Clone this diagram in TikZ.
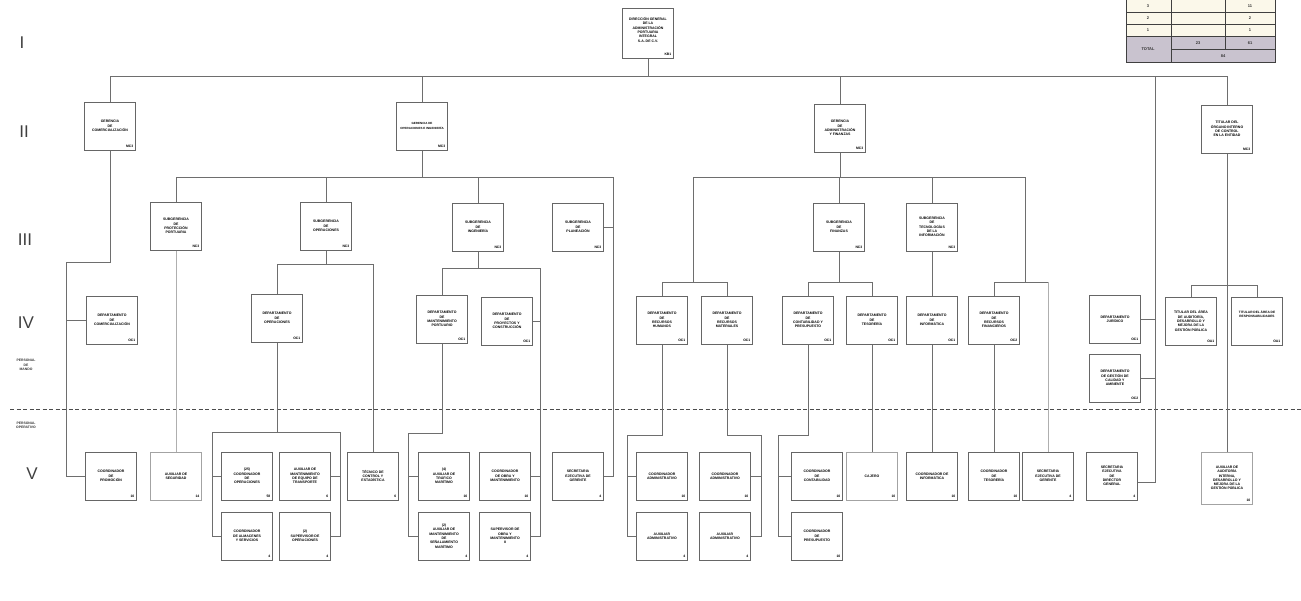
\documentclass[tikz,border=0pt]{standalone}
\usepackage{fontspec}
\setmainfont{Liberation Sans}
\usetikzlibrary{calc}
\definecolor{linegray}{HTML}{6E6E6E}
\definecolor{boxgray}{HTML}{666666}
\definecolor{tabletotal}{HTML}{C9C3CF}
\definecolor{tablecream}{HTML}{FBF8EA}

\begin{document}
\begin{tikzpicture}[
    x=1pt, y=-1pt,
    unit/.style={rectangle, draw=boxgray, line width=1pt, fill=white,
                 minimum width=51pt, minimum height=48pt, inner sep=1pt, align=center,
                 font=\fontsize{3.5}{4.3}\selectfont\bfseries},
    code/.style={anchor=south east, inner sep=2.5pt, font=\fontsize{3.4}{3.4}\selectfont\bfseries},
    link/.style={draw=linegray, line width=0.8pt},
    faint/.style={draw=linegray!55, line width=0.8pt},
    lvl/.style={font=\fontsize{17}{17}\selectfont, text=gray!50!black},
    staff/.style={font=\fontsize{3.4}{4.2}\selectfont\bfseries, align=center, text=gray!40!black},
    tablerule/.style={draw=gray!50!black, line width=0.9pt},
    cell/.style={font=\fontsize{4}{4}\selectfont\bfseries, text=gray!40!black}
]
\useasboundingbox (0,0) rectangle (1301,600);
\clip (0,0) rectangle (1301,600);

% levels
\node[lvl] (lvlI) at (22,43) {I};
\node[lvl] (lvlII) at (24,132) {II};
\node[lvl] (lvlIII) at (25,240) {III};
\node[lvl] (lvlIV) at (26,323) {IV};
\node[lvl] (lvlV) at (32,474) {V};
\node[staff] (mando) at (26,365) {PERSONAL\\DE\\MANDO};
\node[staff] (operativo) at (26,425) {PERSONAL\\OPERATIVO};
\draw[gray!60!black, line width=0.7pt, dash pattern=on 4pt off 2.5pt] (10,409) -- (1301,409);

% summary table
\fill[tablecream] (1126,-12) rectangle (1275,36);
\fill[tabletotal] (1126,36) rectangle (1275,62);
\draw[tablerule] (1126,-12) rectangle (1275,62);
\draw[tablerule] (1126,12) -- (1275,12) (1126,24) -- (1275,24) (1126,36) -- (1275,36)
    (1171,49) -- (1275,49) (1171,-12) -- (1171,62) (1225,-12) -- (1225,49);
\node[cell] (ta1) at (1148,6) {3};   \node[cell] (tc1) at (1250,6) {11};
\node[cell] (ta2) at (1148,18) {2};  \node[cell] (tc2) at (1250,18) {2};
\node[cell] (ta3) at (1148,30) {1};  \node[cell] (tc3) at (1250,30) {1};
\node[cell] (ttot) at (1148,49) {TOTAL};
\node[cell] (tb4) at (1198,43) {23}; \node[cell] (tc4) at (1250,43) {61};
\node[cell] (tsum) at (1223,56) {84};

% level I and II
\node[unit, minimum height=50pt] (top) at (648,33) {DIRECCIÓN GENERAL\\DE LA\\ADMINISTRACIÓN\\PORTUARIA\\INTEGRAL\\S.A. DE C.V.\\[2pt]};
\node[code] (topc) at (top.south east) {KB1};
\node[unit, label={[code]south east:MC3}] (g1) at (110,126) {GERENCIA\\DE\\COMERCIALIZACIÓN};
\node[unit, label={[code]south east:MC3}, font=\fontsize{3}{4.3}\selectfont\bfseries] (g2) at (422,126) {GERENCIA DE\\OPERACIONES E INGENIERÍA};
\node[unit, label={[code]south east:MC3}] (g3) at (840,128) {GERENCIA\\DE\\ADMINISTRACIÓN\\Y FINANZAS};
\node[unit, label={[code]south east:MC3}] (g4) at (1227,129) {TITULAR DEL\\ÓRGANO INTERNO\\DE CONTROL\\EN LA ENTIDAD};

% level III
\node[unit, label={[code]south east:NC3}] (s1) at (176,226) {SUBGERENCIA\\DE\\PROTECCIÓN\\PORTUARIA};
\node[unit, label={[code]south east:NC3}] (s2) at (326,226) {SUBGERENCIA\\DE\\OPERACIONES};
\node[unit, label={[code]south east:NC3}] (s3) at (478,227) {SUBGERENCIA\\DE\\INGENIERÍA};
\node[unit, label={[code]south east:NC3}] (s4) at (578,227) {SUBGERENCIA\\DE\\PLANEACIÓN};
\node[unit, label={[code]south east:NC3}] (s5) at (839,227) {SUBGERENCIA\\DE\\FINANZAS};
\node[unit, label={[code]south east:NC3}] (s6) at (932,227) {SUBGERENCIA\\DE\\TECNOLOGÍAS\\DE LA\\INFORMACIÓN};

% level IV
\node[unit, label={[code]south east:OC1}] (d1) at (112,320) {DEPARTAMENTO\\DE\\COMERCIALIZACIÓN};
\node[unit, label={[code]south east:OC1}] (d2) at (277,318) {DEPARTAMENTO\\DE\\OPERACIONES};
\node[unit, label={[code]south east:OC1}] (d3) at (442,319) {DEPARTAMENTO\\DE\\MANTENIMIENTO\\PORTUARIO};
\node[unit, label={[code]south east:OC1}] (d4) at (507,321) {DEPARTAMENTO\\DE\\PROYECTOS Y\\CONSTRUCCIÓN};
\node[unit, label={[code]south east:OC1}] (d5) at (662,320) {DEPARTAMENTO\\DE\\RECURSOS\\HUMANOS};
\node[unit, label={[code]south east:OC1}] (d6) at (727,320) {DEPARTAMENTO\\DE\\RECURSOS\\MATERIALES};
\node[unit, label={[code]south east:OC1}] (d7) at (808,320) {DEPARTAMENTO\\DE\\CONTABILIDAD Y\\PRESUPUESTO};
\node[unit, label={[code]south east:OC1}] (d8) at (872,320) {DEPARTAMENTO\\DE\\TESORERÍA};
\node[unit, label={[code]south east:OC1}] (d9) at (932,320) {DEPARTAMENTO\\DE\\INFORMÁTICA};
\node[unit, label={[code]south east:OC2}] (d10) at (994,320) {DEPARTAMENTO\\DE\\RECURSOS\\FINANCIEROS};
\node[unit, label={[code]south east:OC1}] (d11) at (1115,319) {DEPARTAMENTO\\JURÍDICO};
\node[unit, label={[code]south east:OC2}] (d12) at (1115,378) {DEPARTAMENTO\\DE GESTIÓN DE\\CALIDAD Y\\AMBIENTE};
\node[unit, label={[code]south east:OA1}] (t1) at (1191,321) {TITULAR DEL ÁREA\\DE AUDITORÍA,\\DESARROLLO Y\\MEJORA DE LA\\GESTIÓN PÚBLICA};
\node[unit, label={[code]south east:OA1}, font=\fontsize{3.2}{4.3}\selectfont\bfseries] (t2) at (1257,321) {TITULAR DEL ÁREA DE\\RESPONSABILIDADES\\[10pt]};

% level V
\node[unit, label={[code]south east:10}] (v1) at (111,476) {COORDINADOR\\DE\\PROMOCIÓN};
\node[unit, label={[code]south east:14}, draw=boxgray!60] (v2) at (176,476) {AUXILIAR DE\\SEGURIDAD};
\node[unit, label={[code]south east:58}] (v3) at (247,476) {(25)\\COORDINADOR\\DE\\OPERACIONES};
\node[unit, label={[code]south east:6}] (v4) at (305,476) {AUXILIAR DE\\MANTENIMIENTO\\DE EQUIPO DE\\TRANSPORTE};
\node[unit, label={[code]south east:4}] (v5) at (247,536) {COORDINADOR\\DE ALMACENES\\Y SERVICIOS};
\node[unit, label={[code]south east:4}] (v6) at (305,536) {(2)\\SUPERVISOR DE\\OPERACIONES};
\node[unit, label={[code]south east:6}] (v7) at (373,476) {TÉCNICO DE\\CONTROL Y\\ESTADÍSTICA};
\node[unit, label={[code]south east:16}] (v8) at (444,476) {(4)\\AUXILIAR DE\\TRÁFICO\\MARÍTIMO};
\node[unit, label={[code]south east:10}] (v9) at (505,476) {COORDINADOR\\DE OBRA Y\\MANTENIMIENTO};
\node[unit, label={[code]south east:4}] (v10) at (444,536) {(2)\\AUXILIAR DE\\MANTENIMIENTO\\DE\\SEÑALAMIENTO\\MARÍTIMO};
\node[unit, label={[code]south east:4}] (v11) at (505,536) {SUPERVISOR DE\\OBRA Y\\MANTENIMIENTO\\II};
\node[unit, label={[code]south east:4}] (v12) at (578,476) {SECRETARIA\\EJECUTIVA DE\\GERENTE};
\node[unit, label={[code]south east:10}] (v13) at (662,476) {COORDINADOR\\ADMINISTRATIVO};
\node[unit, label={[code]south east:10}] (v14) at (725,476) {COORDINADOR\\ADMINISTRATIVO};
\node[unit, label={[code]south east:4}] (v15) at (662,536) {AUXILIAR\\ADMINISTRATIVO};
\node[unit, label={[code]south east:4}] (v16) at (725,536) {AUXILIAR\\ADMINISTRATIVO};
\node[unit, label={[code]south east:10}] (v17) at (817,476) {COORDINADOR\\DE\\CONTABILIDAD};
\node[unit, label={[code]south east:10}] (v18) at (817,536) {COORDINADOR\\DE\\PRESUPUESTO};
\node[unit, label={[code]south east:10}, draw=boxgray!60] (v19) at (872,476) {CAJERO};
\node[unit, label={[code]south east:10}] (v20) at (932,476) {COORDINADOR DE\\INFORMÁTICA};
\node[unit, label={[code]south east:10}] (v21) at (994,476) {COORDINADOR\\DE\\TESORERÍA};
\node[unit, label={[code]south east:4}] (v22) at (1048,476) {SECRETARIA\\EJECUTIVA DE\\GERENTE};
\node[unit, label={[code]south east:4}] (v23) at (1112,476) {SECRETARIA\\EJECUTIVA\\DE\\DIRECTOR\\GENERAL};
\node[unit, label={[code]south east:10}, minimum height=52pt, draw=boxgray!60] (v24) at (1227,478) {AUXILIAR DE\\AUDITORÍA\\INTERNA,\\DESARROLLO Y\\MEJORA DE LA\\GESTIÓN PÚBLICA};

% rails
\coordinate (railII) at (0,76);
\coordinate (railIII) at (0,177);
\coordinate (x613) at (613,0);
\coordinate (x1155) at (1155,0);

% direction to level II
\draw[link] (top.south) -- (top.south |- railII);
\draw[link] (g1.north |- railII) -- (g4.north |- railII);
\foreach \g in {g1,g2,g3,g4}
    \draw[link] (\g.north) -- (\g.north |- railII);
\draw[link] (x1155 |- railII) |- ([yshift=-6pt]v23.east);
\draw[link] (d11.east) -- (d11.east -| x1155);
\draw[link] (d12.east) -- (d12.east -| x1155);

% comercializacion
\coordinate (jg1) at (66,262);
\draw[link] (g1.south) |- (jg1) |- (v1.west);
\draw[link] (d1.west) -- (d1.west -| jg1);

% operaciones e ingenieria
\draw[link] (g2.south) -- (g2.south |- railIII);
\draw[link] (s1.north |- railIII) -- (x613 |- railIII) |- (v12.east);
\foreach \s in {s1,s2,s3}
    \draw[link] (\s.north) -- (\s.north |- railIII);
\draw[link] (s4.east) -- (s4.east -| x613);
\draw[faint] (s1.south) -- (v2.north);

\coordinate (rs2) at (0,264);
\draw[link] (s2.south) -- (s2.south |- rs2);
\draw[link] (d2.north) |- (v7.north |- rs2) -- (v7.north);
\coordinate (rd2) at (0,432);
\coordinate (xl2) at (212,0);
\coordinate (xr2) at (340,0);
\draw[link] (d2.south) -- (d2.south |- rd2);
\draw[link] (v5.west) -| (xl2 |- rd2) -| (xr2 |- v6.east) -- (v6.east);
\draw[link] (v3.west) -- (v3.west -| xl2);
\draw[link] (v4.east) -- (v4.east -| xr2);

\coordinate (rs3) at (0,268);
\coordinate (x540) at (540,0);
\draw[link] (s3.south) -- (s3.south |- rs3);
\draw[link] (d3.north) |- (x540 |- rs3) |- (v11.east);
\draw[link] (d4.east) -- (d4.east -| x540);
\draw[link] (v9.east) -- (v9.east -| x540);
\coordinate (jd3) at (408,433);
\draw[link] (d3.south) |- (jd3) |- (v10.west);
\draw[link] (v8.west) -- (v8.west -| jd3);

% administracion y finanzas
\coordinate (x693) at (693,0);
\coordinate (x1025) at (1025,0);
\coordinate (rIV) at (0,282);
\draw[link] (g3.south) -- (g3.south |- railIII);
\draw[link] (x693 |- rIV) -- (x693 |- railIII) -- (x1025 |- railIII) -- (x1025 |- rIV);
\draw[link] (s5.north) -- (s5.north |- railIII);
\draw[link] (s6.north) -- (s6.north |- railIII);
\draw[link] (d5.north) |- (d6.north |- rIV) -- (d6.north);
\draw[link] (s5.south) -- (s5.south |- rIV);
\draw[link] (d7.north) |- (d8.north |- rIV) -- (d8.north);
\draw[link] (s6.south) -- (d9.north);
\draw[link] (d10.north) |- (v22.north |- rIV);
\draw[faint] (v22.north |- rIV) -- (v22.north);

\coordinate (jd5) at (627,435);
\draw[link] (d5.south) |- (jd5) |- (v15.west);
\draw[link] (v13.west) -- (v13.west -| jd5);
\coordinate (jd6) at (761,435);
\draw[link] (d6.south) |- (jd6) |- (v16.east);
\draw[link] (v14.east) -- (v14.east -| jd6);
\coordinate (jd7) at (778,435);
\draw[link] (d7.south) |- (jd7) |- (v18.west);
\draw[link] (v17.west) -- (v17.west -| jd7);
\draw[link] (d8.south) -- (v19.north);
\draw[link] (d9.south) -- (v20.north);
\draw[link] (d10.south) -- (v21.north);

% organo interno de control
\coordinate (rg4) at (0,285);
\draw[link] (g4.south) -- (v24.north);
\draw[link] (t1.north) |- (t2.north |- rg4) -- (t2.north);
\end{tikzpicture}
\end{document}
